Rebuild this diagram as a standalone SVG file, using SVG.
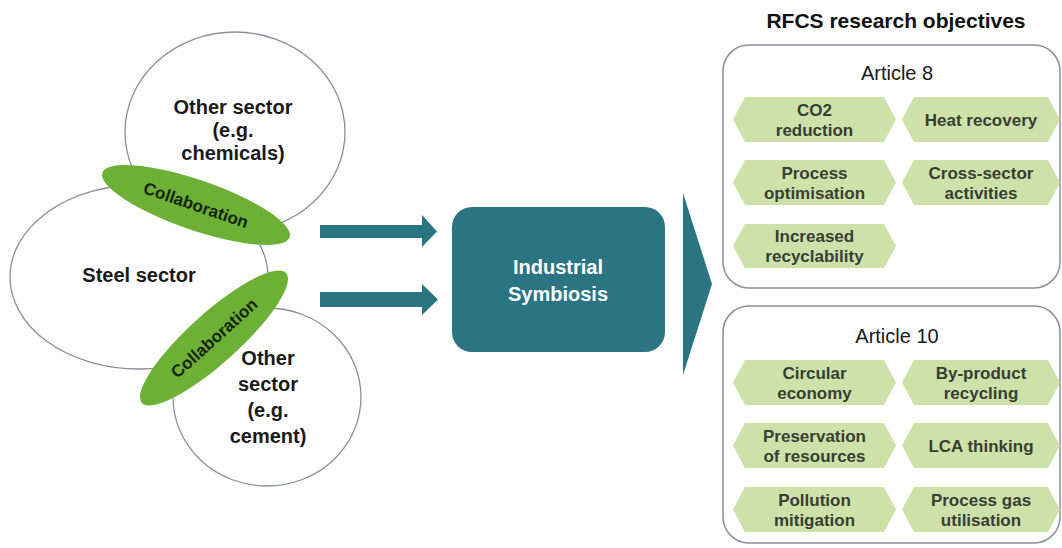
<svg xmlns="http://www.w3.org/2000/svg" width="1062" height="548" viewBox="0 0 1062 548">
<style>
.sector{fill:#ffffff;stroke:#8a8f99;stroke-width:1.3}
.collab{fill:#6cb036}
.ct{font-family:"Liberation Sans",Arial,sans-serif;font-weight:bold;font-size:17px;fill:#16240c;text-anchor:middle}
.st{font-family:"Liberation Sans",Arial,sans-serif;font-weight:bold;font-size:20px;fill:#1a1a1a;text-anchor:middle}
.teal{fill:#2a7484}
.wt{font-family:"Liberation Sans",Arial,sans-serif;font-weight:bold;font-size:20px;fill:#ffffff;text-anchor:middle}
.title{font-family:"Liberation Sans",Arial,sans-serif;font-weight:bold;font-size:21px;fill:#111111;text-anchor:middle}
.art{fill:#ffffff;stroke:#8a8f99;stroke-width:1.5}
.at{font-family:"Liberation Sans",Arial,sans-serif;font-size:20px;fill:#1a1a1a;text-anchor:middle}
.chip{fill:#cde2a9}
.cht{font-family:"Liberation Sans",Arial,sans-serif;font-weight:bold;font-size:17px;fill:#3a3d36;text-anchor:middle}
</style>
<rect width="1062" height="548" fill="#ffffff"/>

<g id="steel-sector">
<ellipse class="sector" cx="139" cy="277" rx="129" ry="92"/>
<text class="st" x="139" y="282">Steel sector</text>
</g>
<g id="other-sector-chemicals">
<ellipse class="sector" cx="235" cy="132" rx="110" ry="100"/>
<text class="st" x="233" y="114">Other sector</text>
<text class="st" x="233" y="137">(e.g.</text>
<text class="st" x="233" y="160">chemicals)</text>
</g>
<g id="other-sector-cement">
<ellipse class="sector" cx="267" cy="397" rx="94" ry="89"/>
<text class="st" x="268" y="365">Other</text>
<text class="st" x="268" y="391">sector</text>
<text class="st" x="268" y="417">(e.g.</text>
<text class="st" x="268" y="443">cement)</text>
</g>
<g id="collaboration-1">
<ellipse class="collab" cx="196" cy="205" rx="99" ry="25" transform="rotate(19 196 205)"/>
<text class="ct" x="196" y="211" transform="rotate(19 196 205)">Collaboration</text>
</g>
<g id="collaboration-2">
<ellipse class="collab" cx="214" cy="338" rx="97" ry="25" transform="rotate(-42 214 338)"/>
<text class="ct" x="214" y="344" transform="rotate(-42 214 338)">Collaboration</text>
</g>

<g id="connectors">
<polygon class="teal" points="320,225 422,225 422,215 437,231.5 422,247 422,238 320,238"/>
<polygon class="teal" points="320,292 422,292 422,284 438,299.5 422,315 422,307 320,307"/>
<polygon class="teal" points="683,193 712,284 683,375"/>
</g>

<g id="industrial-symbiosis">
<rect class="teal" x="452" y="207" width="213" height="145" rx="20" ry="20"/>
<text class="wt" x="558" y="274">Industrial</text>
<text class="wt" x="558" y="301">Symbiosis</text>
</g>

<g id="title">
<text class="title" x="896" y="28">RFCS research objectives</text>
</g>

<g id="article-8">
<rect class="art" x="723" y="45" width="337" height="243" rx="26" ry="26"/>
<text class="at" x="897" y="80">Article 8</text>
<polygon class="chip" points="733,119.5 745,97 884,97 896,119.5 884,142 745,142"/>
<text class="cht" x="814.5" y="115.5">CO2</text>
<text class="cht" x="814.5" y="135.5">reduction</text>
<polygon class="chip" points="902,119.5 914,97 1048,97 1060,119.5 1048,142 914,142"/>
<text class="cht" x="981" y="125.5">Heat recovery</text>
<polygon class="chip" points="733,182.5 745,160 884,160 896,182.5 884,205 745,205"/>
<text class="cht" x="814.5" y="178.5">Process</text>
<text class="cht" x="814.5" y="198.5">optimisation</text>
<polygon class="chip" points="902,182.5 914,160 1048,160 1060,182.5 1048,205 914,205"/>
<text class="cht" x="981" y="178.5">Cross-sector</text>
<text class="cht" x="981" y="198.5">activities</text>
<polygon class="chip" points="733,246 745,224 884,224 896,246 884,268 745,268"/>
<text class="cht" x="814.5" y="242">Increased</text>
<text class="cht" x="814.5" y="262">recyclability</text>
</g>

<g id="article-10">
<rect class="art" x="723" y="306" width="337" height="237" rx="26" ry="26"/>
<text class="at" x="897" y="343">Article 10</text>
<polygon class="chip" points="733,382.5 745,360 884,360 896,382.5 884,405 745,405"/>
<text class="cht" x="814.5" y="378.5">Circular</text>
<text class="cht" x="814.5" y="398.5">economy</text>
<polygon class="chip" points="902,382.5 914,360 1048,360 1060,382.5 1048,405 914,405"/>
<text class="cht" x="981" y="378.5">By-product</text>
<text class="cht" x="981" y="398.5">recycling</text>
<polygon class="chip" points="733,445.5 745,423 884,423 896,445.5 884,468 745,468"/>
<text class="cht" x="814.5" y="441.5">Preservation</text>
<text class="cht" x="814.5" y="461.5">of resources</text>
<polygon class="chip" points="902,445.5 914,423 1048,423 1060,445.5 1048,468 914,468"/>
<text class="cht" x="981" y="451.5">LCA thinking</text>
<polygon class="chip" points="733,509.5 745,487 884,487 896,509.5 884,532 745,532"/>
<text class="cht" x="814.5" y="505.5">Pollution</text>
<text class="cht" x="814.5" y="525.5">mitigation</text>
<polygon class="chip" points="902,509.5 914,487 1048,487 1060,509.5 1048,532 914,532"/>
<text class="cht" x="981" y="505.5">Process gas</text>
<text class="cht" x="981" y="525.5">utilisation</text>
</g>
</svg>
